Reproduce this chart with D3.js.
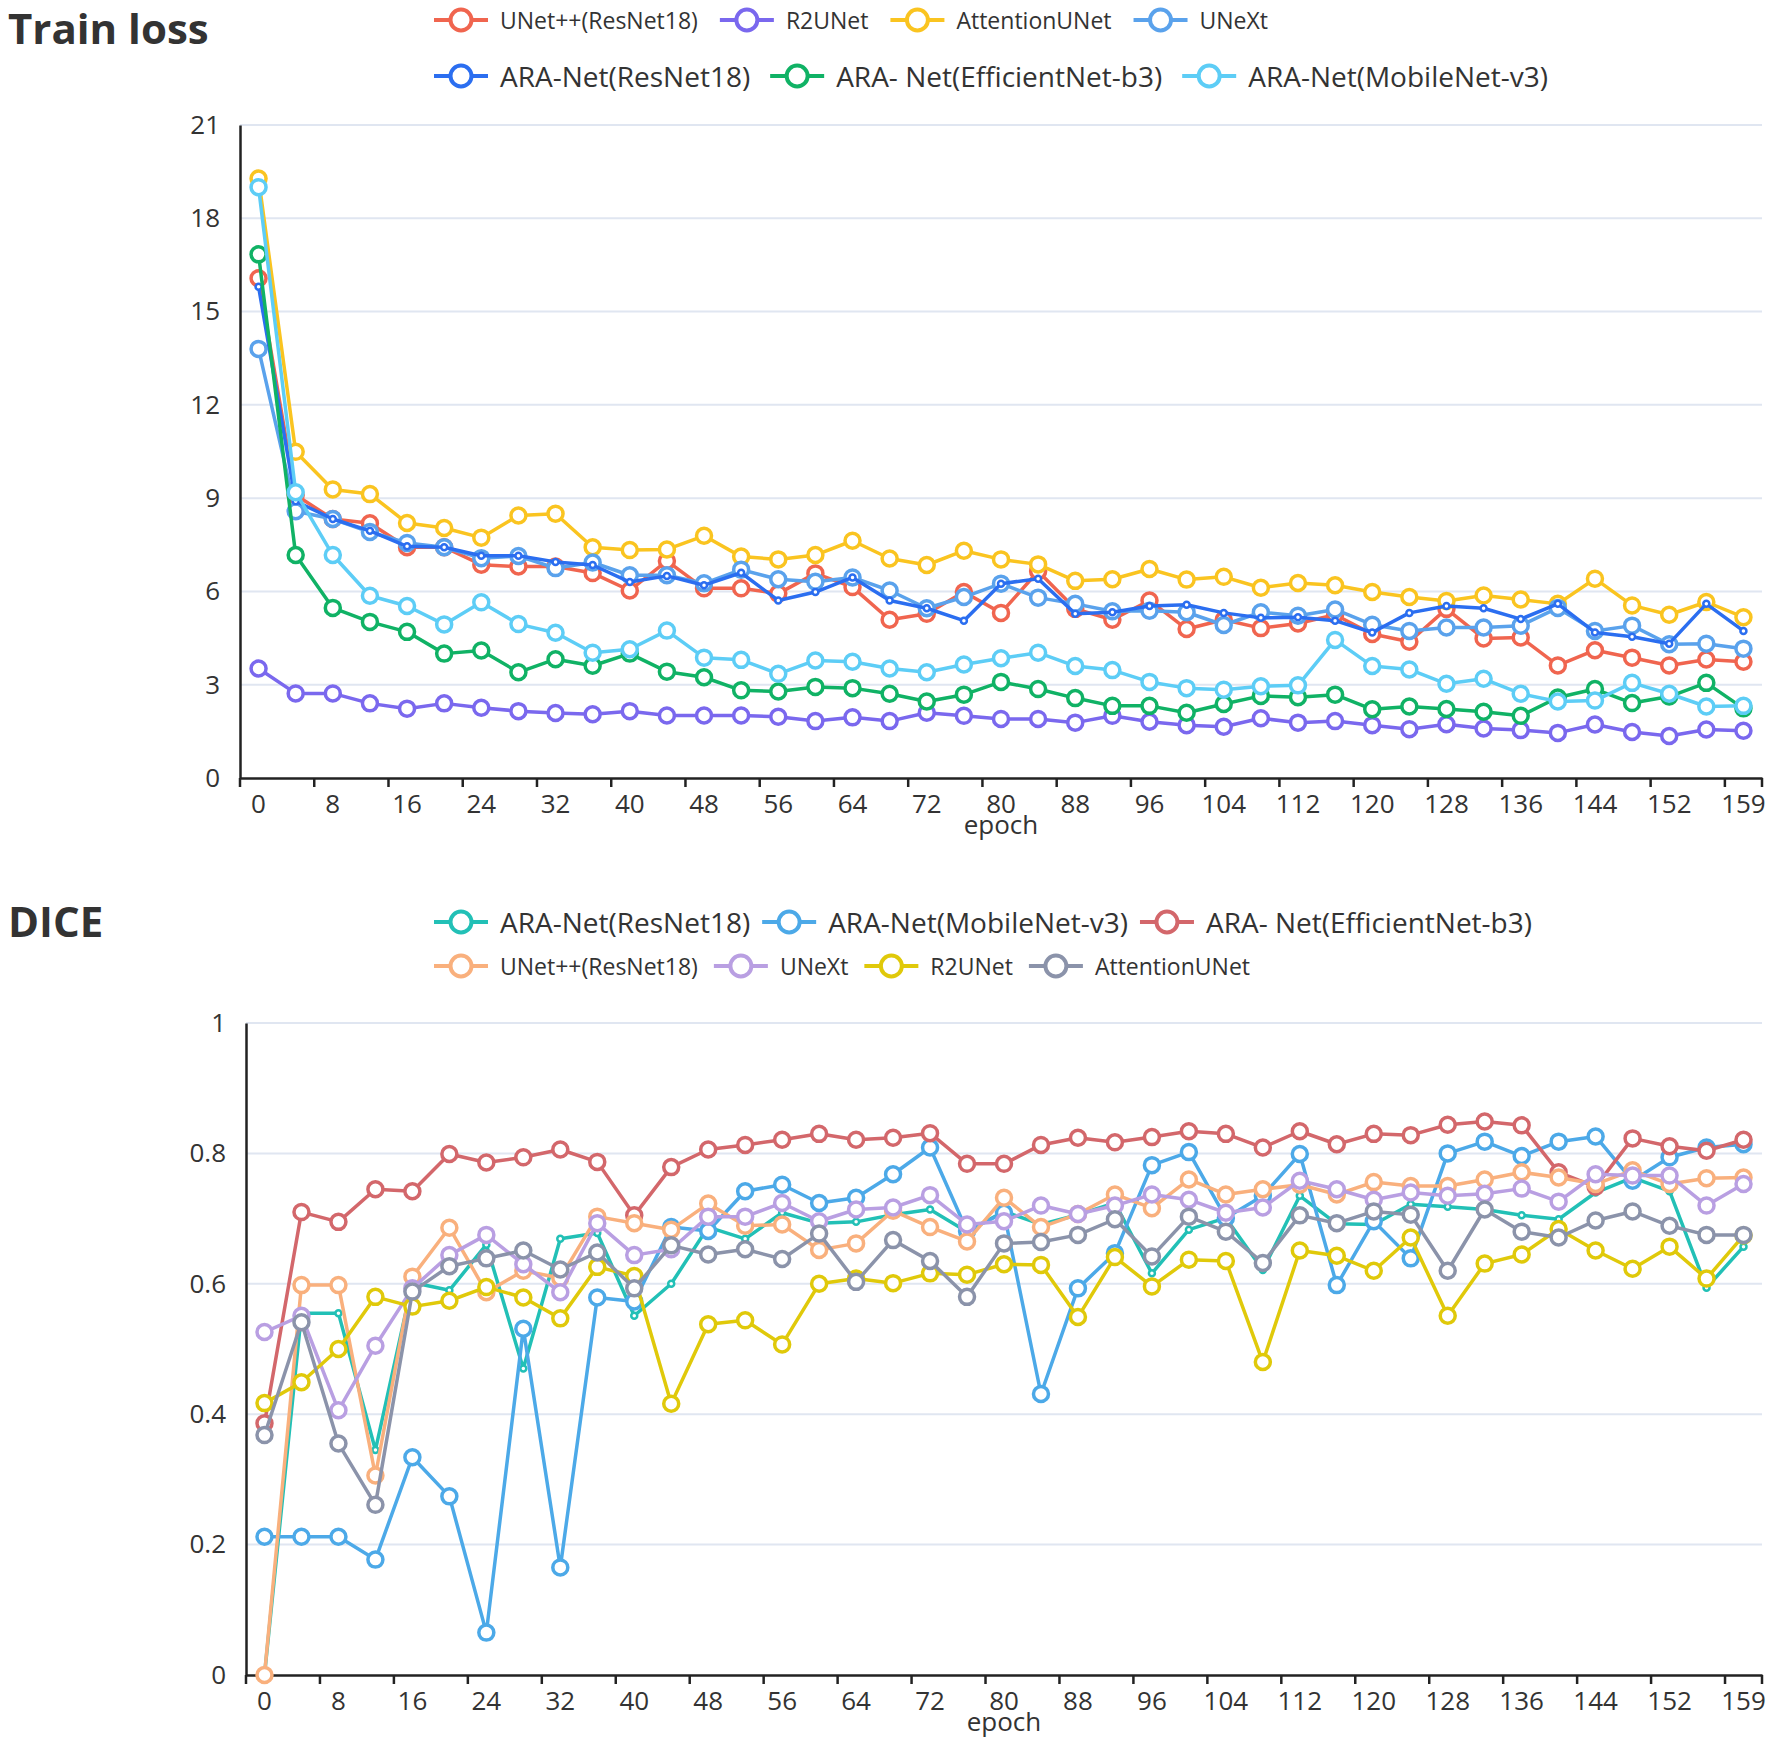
<!DOCTYPE html>
<html>
<head>
<meta charset="utf-8">
<script src="https://cdn.jsdelivr.net/npm/d3@7/dist/d3.min.js"></script>
<style>
  body { margin: 0; background: #fff; }
  svg { display: block; font-family: "Open Sans", "Noto Sans", sans-serif; }
</style>
</head>
<body>
<svg id="chart" width="1772" height="1742"></svg>
<script>
// epochs sampled every 4, last one is 159
const epochs = [0, 4, 8, 12, 16, 20, 24, 28, 32, 36, 40, 44, 48, 52,
    56, 60, 64, 68, 72, 76, 80, 84, 88, 92, 96, 100, 104, 108,
    112, 116, 120, 124, 128, 132, 136, 140, 144, 148, 152, 156, 159];

// ---- Train loss ----
const lossTicks = [0, 3, 6, 9, 12, 15, 18, 21];

const lossUNetpp = [16.07, 9.10, 8.33, 8.19, 7.42, 7.42, 6.86, 6.80, 6.80, 6.59, 6.03, 6.98, 6.10, 6.10,
    5.93, 6.58, 6.14, 5.09, 5.28, 5.98, 5.31, 6.65, 5.44, 5.09, 5.71, 4.79, 5.09, 4.82,
    4.97, 5.25, 4.63, 4.38, 5.44, 4.49, 4.52, 3.62, 4.11, 3.87, 3.62, 3.81, 3.74];
const lossR2UNet = [3.52, 2.72, 2.72, 2.40, 2.23, 2.40, 2.26, 2.15, 2.09, 2.05, 2.15, 2.01, 2.01, 2.01,
    1.97, 1.83, 1.95, 1.83, 2.10, 2.00, 1.90, 1.90, 1.78, 2.00, 1.81, 1.70, 1.65, 1.92,
    1.78, 1.83, 1.70, 1.57, 1.73, 1.59, 1.54, 1.45, 1.72, 1.48, 1.35, 1.56, 1.52];
const lossAttention = [19.28, 10.49, 9.28, 9.13, 8.20, 8.04, 7.73, 8.44, 8.50, 7.42, 7.33, 7.35, 7.79, 7.12,
    7.03, 7.17, 7.63, 7.06, 6.85, 7.31, 7.03, 6.87, 6.34, 6.39, 6.72, 6.38, 6.47, 6.12,
    6.27, 6.20, 5.98, 5.82, 5.69, 5.87, 5.74, 5.60, 6.41, 5.55, 5.25, 5.66, 5.17];
const lossUNeXt = [13.8, 8.58, 8.33, 7.91, 7.56, 7.42, 7.07, 7.14, 6.75, 6.93, 6.52, 6.52, 6.26, 6.70,
    6.39, 6.31, 6.45, 6.03, 5.46, 5.82, 6.25, 5.80, 5.60, 5.36, 5.38, 5.33, 4.92, 5.33,
    5.22, 5.42, 4.93, 4.73, 4.84, 4.84, 4.90, 5.47, 4.73, 4.90, 4.30, 4.32, 4.16];
const lossAraRes = [15.8, 8.9, 8.33, 7.95, 7.45, 7.42, 7.15, 7.15, 6.95, 6.85, 6.30, 6.50, 6.20, 6.60,
    5.71, 5.98, 6.45, 5.71, 5.46, 5.06, 6.25, 6.41, 5.28, 5.33, 5.53, 5.57, 5.31, 5.15,
    5.17, 5.06, 4.68, 5.31, 5.53, 5.46, 5.11, 5.60, 4.68, 4.54, 4.32, 5.60, 4.73];
const lossAraEff = [16.84, 7.17, 5.47, 5.02, 4.70, 4.00, 4.10, 3.40, 3.82, 3.61, 4.00, 3.42, 3.24, 2.82,
    2.78, 2.93, 2.89, 2.71, 2.46, 2.68, 3.09, 2.86, 2.57, 2.32, 2.32, 2.10, 2.38, 2.64,
    2.60, 2.68, 2.21, 2.30, 2.22, 2.13, 2.00, 2.59, 2.86, 2.41, 2.62, 3.06, 2.24];
const lossAraMob = [19.0, 9.19, 7.17, 5.86, 5.53, 4.94, 5.65, 4.95, 4.67, 4.03, 4.14, 4.74, 3.87, 3.80,
    3.35, 3.78, 3.74, 3.52, 3.40, 3.65, 3.85, 4.03, 3.60, 3.47, 3.09, 2.89, 2.84, 2.95,
    2.98, 4.44, 3.60, 3.49, 3.03, 3.19, 2.71, 2.46, 2.49, 3.06, 2.71, 2.30, 2.32];

// ---- DICE ----
const diceTicks = [0, 0.2, 0.4, 0.6, 0.8, 1];

const diceAraRes = [0.0, 0.555, 0.555, 0.345, 0.602, 0.59, 0.66, 0.47, 0.669, 0.678, 0.551, 0.600, 0.687, 0.669,
    0.709, 0.693, 0.695, 0.706, 0.714, 0.680, 0.711, 0.691, 0.706, 0.724, 0.616, 0.683, 0.701, 0.621,
    0.735, 0.692, 0.691, 0.722, 0.718, 0.714, 0.705, 0.699, 0.740, 0.763, 0.742, 0.594, 0.657];
const diceAraMob = [0.212, 0.212, 0.212, 0.177, 0.334, 0.274, 0.065, 0.531, 0.165, 0.579, 0.573, 0.687, 0.681, 0.742,
    0.752, 0.724, 0.732, 0.768, 0.809, 0.681, 0.709, 0.431, 0.593, 0.647, 0.782, 0.802, 0.701, 0.735,
    0.799, 0.598, 0.696, 0.639, 0.800, 0.818, 0.796, 0.818, 0.826, 0.758, 0.794, 0.809, 0.814];
const diceAraEff = [0.386, 0.710, 0.695, 0.745, 0.742, 0.799, 0.786, 0.794, 0.806, 0.787, 0.705, 0.779, 0.806, 0.813,
    0.821, 0.830, 0.821, 0.824, 0.831, 0.784, 0.784, 0.813, 0.824, 0.817, 0.825, 0.834, 0.830, 0.809,
    0.834, 0.814, 0.830, 0.828, 0.844, 0.849, 0.843, 0.771, 0.749, 0.823, 0.811, 0.804, 0.821];
const diceUNetpp = [0.0, 0.598, 0.598, 0.306, 0.611, 0.686, 0.587, 0.620, 0.609, 0.703, 0.693, 0.683, 0.723, 0.689,
    0.691, 0.652, 0.662, 0.712, 0.687, 0.665, 0.732, 0.687, 0.707, 0.737, 0.716, 0.760, 0.737, 0.745,
    0.752, 0.737, 0.756, 0.750, 0.750, 0.760, 0.771, 0.763, 0.753, 0.774, 0.753, 0.762, 0.763];
const diceUNeXt = [0.526, 0.551, 0.406, 0.505, 0.593, 0.644, 0.675, 0.630, 0.587, 0.693, 0.644, 0.653, 0.703, 0.703,
    0.724, 0.696, 0.714, 0.717, 0.736, 0.691, 0.696, 0.720, 0.707, 0.720, 0.737, 0.729, 0.709, 0.717,
    0.758, 0.745, 0.729, 0.740, 0.735, 0.738, 0.746, 0.726, 0.768, 0.766, 0.766, 0.720, 0.753];
const diceR2UNet = [0.417, 0.449, 0.500, 0.580, 0.565, 0.574, 0.595, 0.579, 0.547, 0.626, 0.612, 0.416, 0.538, 0.544,
    0.507, 0.600, 0.608, 0.601, 0.616, 0.614, 0.630, 0.629, 0.549, 0.641, 0.596, 0.637, 0.635, 0.480,
    0.651, 0.643, 0.620, 0.671, 0.551, 0.631, 0.645, 0.684, 0.651, 0.623, 0.657, 0.608, 0.674];
const diceAttention = [0.368, 0.541, 0.355, 0.261, 0.588, 0.627, 0.639, 0.651, 0.622, 0.648, 0.593, 0.659, 0.645, 0.653,
    0.638, 0.677, 0.603, 0.667, 0.635, 0.580, 0.662, 0.664, 0.675, 0.699, 0.642, 0.703, 0.680, 0.632,
    0.705, 0.693, 0.711, 0.706, 0.620, 0.714, 0.680, 0.671, 0.697, 0.711, 0.689, 0.675, 0.675];

const lossSeries = [
    {name: 'UNet++(ResNet18)', values: lossUNetpp, color: '#f0654f', row: 0},
    {name: 'R2UNet', values: lossR2UNet, color: '#7a68ee', row: 0},
    {name: 'AttentionUNet', values: lossAttention, color: '#fac420', row: 0},
    {name: 'UNeXt', values: lossUNeXt, color: '#5aa2ec', row: 0},
    {name: 'ARA-Net(ResNet18)', values: lossAraRes, color: '#2b6ef0', row: 1, small: true},
    {name: 'ARA- Net(EfficientNet-b3)', values: lossAraEff, color: '#10b265', row: 1},
    {name: 'ARA-Net(MobileNet-v3)', values: lossAraMob, color: '#5dcdf6', row: 1}
];

const diceSeries = [
    {name: 'ARA-Net(ResNet18)', values: diceAraRes, color: '#22c0b6', row: 0, small: true},
    {name: 'ARA-Net(MobileNet-v3)', values: diceAraMob, color: '#4ca9e8', row: 0},
    {name: 'ARA- Net(EfficientNet-b3)', values: diceAraEff, color: '#d3676b', row: 0},
    {name: 'UNet++(ResNet18)', values: diceUNetpp, color: '#f9b07d', row: 1},
    {name: 'UNeXt', values: diceUNeXt, color: '#b99fe2', row: 1},
    {name: 'R2UNet', values: diceR2UNet, color: '#e0c90a', row: 1},
    {name: 'AttentionUNet', values: diceAttention, color: '#8b93aa', row: 1}
];

const svg = d3.select('#chart');

function drawLegend(series, rows) {
    rows.forEach(function (r, ri) {
        let x = r.x;
        series.filter(s => s.row === ri).forEach(function (s) {
            const g = svg.append('g');
            g.append('line')
                .attr('x1', x).attr('x2', x + 54)
                .attr('y1', r.y).attr('y2', r.y)
                .attr('stroke', s.color).attr('stroke-width', 4);
            g.append('circle')
                .attr('cx', x + 27).attr('cy', r.y).attr('r', 10.5)
                .attr('fill', '#fff').attr('stroke', s.color).attr('stroke-width', 4);
            const t = g.append('text')
                .attr('x', x + 66).attr('y', r.y)
                .attr('dominant-baseline', 'central')
                .attr('font-size', r.size)
                .attr('fill', '#333')
                .text(s.name);
            x = x + 66 + t.node().getComputedTextLength() + r.gap;
        });
    });
}

function drawChart(cfg) {
    svg.append('text')
        .attr('x', 8).attr('y', cfg.titleY)
        .attr('font-size', 42).attr('font-weight', 'bold')
        .attr('fill', '#333')
        .text(cfg.title);

    drawLegend(cfg.series, cfg.legendRows);

    const x = d3.scaleBand()
        .domain(epochs.map(String))
        .range([cfg.left, cfg.right])
        .padding(0);

    const y = d3.scaleLinear()
        .domain([0, d3.max(cfg.ticks)])
        .range([cfg.bottom, cfg.top]);

    // grid lines
    svg.append('g')
        .selectAll('line')
        .data(cfg.ticks.filter(d => d > 0))
        .enter().append('line')
        .attr('x1', cfg.left).attr('x2', cfg.right)
        .attr('y1', d => y(d)).attr('y2', d => y(d))
        .attr('stroke', '#e0e6f1').attr('stroke-width', 2);

    // y axis
    const yAxis = svg.append('g')
        .attr('transform', 'translate(' + cfg.left + ',0)')
        .call(d3.axisLeft(y).tickValues(cfg.ticks).tickSize(0).tickPadding(20).tickFormat(d3.format('')));
    yAxis.select('.domain').attr('stroke', '#222').attr('stroke-width', 2.5);
    yAxis.selectAll('text').attr('font-size', 26).attr('fill', '#333')
        .attr('font-family', '"Open Sans", sans-serif');

    // x axis: category axis, labels every other point, ticks on band edges
    const labelled = epochs.filter((d, i) => i % 2 === 0).map(String);
    const xAxis = svg.append('g')
        .attr('transform', 'translate(0,' + cfg.bottom + ')')
        .call(d3.axisBottom(x).tickValues(labelled).tickSize(0).tickPadding(17));
    xAxis.select('.domain').attr('stroke', '#222').attr('stroke-width', 2.5);
    xAxis.selectAll('text').attr('font-size', 26).attr('fill', '#333')
        .attr('font-family', '"Open Sans", sans-serif');

    const edges = labelled.map(d => x(d)).concat([cfg.right]);
    svg.append('g')
        .selectAll('line')
        .data(edges)
        .enter().append('line')
        .attr('x1', d => d).attr('x2', d => d)
        .attr('y1', cfg.bottom).attr('y2', cfg.bottom + 9)
        .attr('stroke', '#222').attr('stroke-width', 2.5);

    svg.append('text')
        .attr('x', (cfg.left + cfg.right) / 2).attr('y', cfg.bottom + 46)
        .attr('text-anchor', 'middle').attr('dominant-baseline', 'central')
        .attr('font-size', 26).attr('fill', '#333')
        .text('epoch');

    const line = d3.line()
        .x((d, i) => x(String(epochs[i])) + x.bandwidth() / 2)
        .y(d => y(d));

    cfg.series.forEach(function (s) {
        const g = svg.append('g');
        g.append('path')
            .datum(s.values)
            .attr('d', line)
            .attr('fill', 'none')
            .attr('stroke', s.color)
            .attr('stroke-width', 3.5)
            .attr('stroke-linejoin', 'round');
        g.selectAll('circle')
            .data(s.values)
            .enter().append('circle')
            .attr('cx', (d, i) => x(String(epochs[i])) + x.bandwidth() / 2)
            .attr('cy', d => y(d))
            .attr('r', s.small ? 3 : 7.5)
            .attr('fill', '#fff')
            .attr('stroke', s.color)
            .attr('stroke-width', s.small ? 2.5 : 3.5);
    });
}

drawChart({
    title: 'Train loss', titleY: 44,
    series: lossSeries,
    legendRows: [{x: 434, y: 20, size: 23, gap: 22}, {x: 434, y: 76, size: 28, gap: 20}],
    ticks: lossTicks,
    left: 240, right: 1762, top: 125, bottom: 778
});

drawChart({
    title: 'DICE', titleY: 937,
    series: diceSeries,
    legendRows: [{x: 434, y: 922, size: 28, gap: 12}, {x: 434, y: 966, size: 23, gap: 16}],
    ticks: diceTicks,
    left: 246, right: 1762, top: 1023, bottom: 1675
});
</script>
</body>
</html>
